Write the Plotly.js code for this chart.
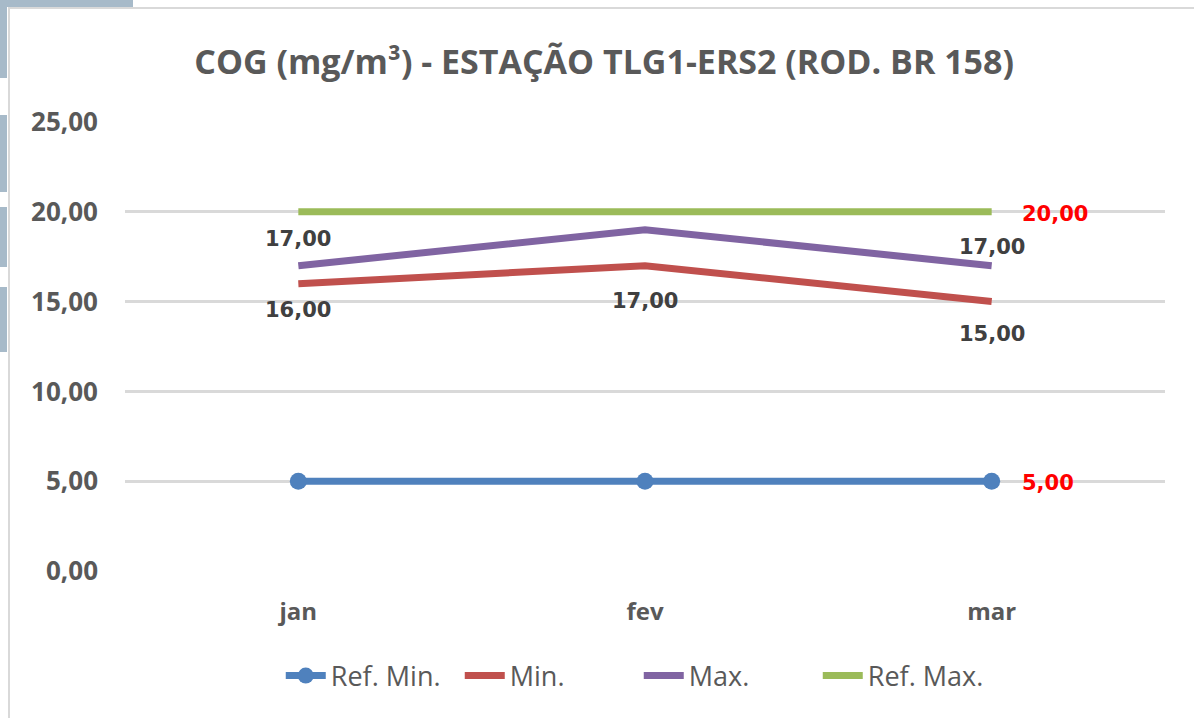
<!DOCTYPE html>
<html>
<head>
<meta charset="utf-8">
<script src="https://cdn.plot.ly/plotly-3.0.1.min.js"></script>
<style>
  html,body{margin:0;padding:0;background:#fff;}
  #wrap{position:relative;width:1194px;height:718px;overflow:hidden;background:#fff;}
  #chart{position:absolute;left:0;top:0;width:1194px;height:718px;}
  .deco{position:absolute;background:#A7BAC9;}
  .frame{position:absolute;background:#D9D9D9;}
</style>
</head>
<body>
<div id="wrap">
  <div class="deco" style="left:0;top:0;width:133px;height:7px;"></div>
  <div class="deco" style="left:0;top:0;width:7px;height:78px;"></div>
  <div class="deco" style="left:0;top:115px;width:7px;height:77px;"></div>
  <div class="deco" style="left:0;top:207px;width:7px;height:60px;"></div>
  <div class="deco" style="left:0;top:287px;width:7px;height:65px;"></div>
  <div id="chart"></div>
  <div class="frame" style="left:8px;top:7px;width:1186px;height:2px;"></div>
  <div class="frame" style="left:8px;top:7px;width:2px;height:711px;"></div>
</div>
<script>
const categories = ["jan", "fev", "mar"];
const refMin = [5, 5, 5];
const minVals = [16, 17, 15];
const maxVals = [17, 19, 17];
const refMax = [20, 20, 20];
const yTicks = [0, 5, 10, 15, 20, 25];
const yTickLabels = ["0,00", "5,00", "10,00", "15,00", "20,00", "25,00"];

const fmt = v => v.toFixed(2).replace(".", ",");
const labelFont = {family: "DejaVu Sans", size: 21, color: "#404040", weight: "bold"};
const redFont = {family: "DejaVu Sans", size: 21, color: "#FF0000", weight: "bold"};

const traces = [
  {name: "Ref. Min.", x: categories, y: refMin, type: "scatter", mode: "lines+markers",
   line: {color: "#4F81BD", width: 7}, marker: {color: "#4F81BD", size: 17, symbol: "circle"}},
  {name: "Min.", x: categories, y: minVals, type: "scatter", mode: "lines",
   line: {color: "#C0504D", width: 7}},
  {name: "Max.", x: categories, y: maxVals, type: "scatter", mode: "lines",
   line: {color: "#8064A2", width: 7}},
  {name: "Ref. Max.", x: categories, y: refMax, type: "scatter", mode: "lines",
   line: {color: "#9BBB59", width: 7}}
];

// data labels: [values, index, font, xanchor, xshift, yshift]
const labelSpecs = [
  [minVals, 0, labelFont, "center", 0, -26],
  [minVals, 1, labelFont, "center", 0, -35],
  [minVals, 2, labelFont, "center", 0, -32],
  [maxVals, 0, labelFont, "center", 0, 27],
  [maxVals, 2, labelFont, "center", 0, 19],
  [refMax, 2, redFont, "left", 28, -2],
  [refMin, 2, redFont, "left", 28, -2]
];
const annotations = labelSpecs.map(([vals, i, font, xa, xs, ys]) => ({
  x: categories[i], y: vals[i], xref: "x", yref: "y",
  text: fmt(vals[i]), showarrow: false, font: font,
  xanchor: xa, yanchor: "middle", xshift: xs, yshift: ys
}));

const layout = {
  width: 1194, height: 718,
  paper_bgcolor: "rgba(0,0,0,0)", plot_bgcolor: "rgba(0,0,0,0)",
  margin: {l: 125, r: 29, t: 122, b: 147},
  title: {
    text: "COG (mg/m³) - ESTAÇÃO TLG1-ERS2 (ROD. BR 158)",
    font: {family: "Open Sans", size: 34, color: "#595959", weight: "bold"},
    x: 0.506, xref: "container", xanchor: "center",
    y: 0.914, yref: "container", yanchor: "middle"
  },
  xaxis: {
    type: "category", range: [-0.5, 2.5],
    showgrid: false, zeroline: false, showline: false, ticks: "",
    tickfont: {family: "Open Sans", size: 24, color: "#595959", weight: "bold"},
    ticklabelstandoff: 24
  },
  yaxis: {
    range: [0, 25], tickvals: yTicks, ticktext: yTickLabels,
    showgrid: true, gridcolor: "#D9D9D9", gridwidth: 3,
    zeroline: false, showline: false, ticks: "",
    tickfont: {family: "Open Sans", size: 26, color: "#595959", weight: "bold"},
    ticklabelstandoff: 26
  },
  annotations: annotations,
  showlegend: true,
  legend: {
    orientation: "h", x: 0.494, xanchor: "center", y: -0.234, yanchor: "middle",
    font: {family: "Open Sans", size: 27, color: "#595959"},
    itemwidth: 40, tracegroupgap: 0,
    entrywidth: 124, entrywidthmode: "pixels"
  }
};

Plotly.newPlot("chart", traces, layout, {displayModeBar: false, staticPlot: true});
</script>
</body>
</html>
